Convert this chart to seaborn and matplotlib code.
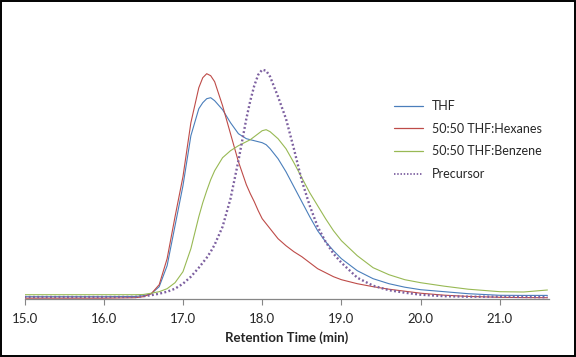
import numpy as np
import pandas as pd
import seaborn as sns
import matplotlib.pyplot as plt
from matplotlib.patches import Rectangle

# GPC traces (detector response, arbitrary units)
retention_time = [15.0, 16.0, 16.4, 16.5, 16.6, 16.7, 16.8, 16.9, 17.0, 17.1,
                  17.2, 17.25, 17.3, 17.35, 17.4, 17.5, 17.6, 17.7, 17.8, 17.85,
                  17.9, 17.95, 18.0, 18.05, 18.1, 18.2, 18.3, 18.4, 18.5, 18.6,
                  18.7, 18.8, 18.9, 19.0, 19.2, 19.4, 19.6, 19.8, 20.0, 20.3,
                  20.6, 21.0, 21.3, 21.6]

thf = [2, 2, 2.2, 3, 5, 12, 33, 73, 113, 163,
       190, 196, 200, 201, 198, 189, 176, 165, 160, 159,
       158, 157, 156, 154, 150, 140, 127, 112, 97, 82,
       68, 57, 48, 40, 28, 20, 15, 11.5, 9, 7,
       5, 3.4, 3.3, 3.3]

thf_hexanes = [0.5, 0.5, 1, 2, 5, 14, 40, 82, 122, 176,
               211, 221, 225, 223, 217, 193, 165, 137, 114, 105,
               97, 88, 80, 75, 70, 60, 53, 47, 42, 36,
               30, 26, 22, 19, 15, 12, 9.5, 7.5, 5.5, 3.5,
               2.3, 1.4, 1.1, 1.0]

thf_benzene = [4, 4, 4, 4.2, 5.5, 7, 10, 16, 27, 50,
               82, 96, 108, 119, 128, 141, 148, 153, 157, 159,
               162, 165, 168, 169, 167, 160, 150, 136, 121, 106,
               93, 80, 68, 58, 43, 31, 24, 19, 16, 12.5,
               9.5, 7, 6.7, 8.7]

precursor = [1.7, 1.7, 1.8, 2.5, 3.5, 5, 7, 10, 15, 22,
             31, 36, 41, 47, 54, 72, 100, 138, 180, 198,
             213, 224, 229, 228, 222, 202, 180, 150, 118, 93,
             72, 57, 45, 36, 21, 13, 8.5, 6, 4, 2.5,
             2, 2, 1.8, 1.5]

series_names = ['THF', '50:50 THF:Hexanes', '50:50 THF:Benzene', 'Precursor']
series_colors = ['#4A7EBB', '#BE4B48', '#98B954', '#7D60A0']
x_ticks = [15.0, 16.0, 17.0, 18.0, 19.0, 20.0, 21.0]


def main():
    sns.set_theme(style='white')
    plt.rcParams['font.family'] = ['Lato', 'DejaVu Sans']

    df = pd.DataFrame({'time': retention_time, 'THF': thf,
                       '50:50 THF:Hexanes': thf_hexanes,
                       '50:50 THF:Benzene': thf_benzene,
                       'Precursor': precursor})

    fig = plt.figure(figsize=(5.76, 3.57), dpi=100)
    ax = fig.add_axes([24.5 / 576, (357 - 298.7) / 357,
                       (549 - 24.5) / 576, (298.7 - 12) / 357])

    for name, color in zip(series_names, series_colors):
        if name == 'Precursor':
            sns.lineplot(data=df, x='time', y=name, ax=ax, color=color,
                         linewidth=1.7, linestyle=(0, (0.8, 1.0)), label=name)
        else:
            sns.lineplot(data=df, x='time', y=name, ax=ax, color=color,
                         linewidth=0.8, label=name)

    ax.set_xlim(15.0, 21.62)
    ax.set_ylim(0, 298.7 - 12)
    ax.set_xticks(x_ticks)
    ax.set_xticklabels([f'{t:.1f}' for t in x_ticks], fontsize=9.5)
    ax.set_yticks([])
    ax.set_ylabel('')
    ax.set_xlabel('Retention Time (min)', fontsize=9.5, fontweight='bold',
                  labelpad=5)
    ax.tick_params(axis='x', direction='out', length=4, width=0.8,
                   color='#868686', bottom=True, pad=6)
    for side in ['top', 'right', 'left']:
        ax.spines[side].set_visible(False)
    ax.spines['bottom'].set_color('#868686')
    ax.spines['bottom'].set_linewidth(0.9)
    ax.set_facecolor('none')

    leg = ax.legend(loc='upper left', bbox_to_anchor=(394 / 576, 1 - 100 / 357),
                    bbox_transform=fig.transFigure, frameon=False,
                    fontsize=9, handlelength=2.3, handletextpad=0.7,
                    labelspacing=0.85, borderpad=0, borderaxespad=0)
    for line in leg.get_lines():
        line.set_linewidth(0.9)
    leg.get_lines()[3].set_linewidth(1.3)

    # chart border
    fig.patches.append(Rectangle((0.0015, 0.0025), 0.997, 0.995,
                                 transform=fig.transFigure, fill=False,
                                 edgecolor='black', linewidth=1.4))

    fig.savefig('out.png', dpi=100)
    plt.close(fig)


if __name__ == '__main__':
    main()
